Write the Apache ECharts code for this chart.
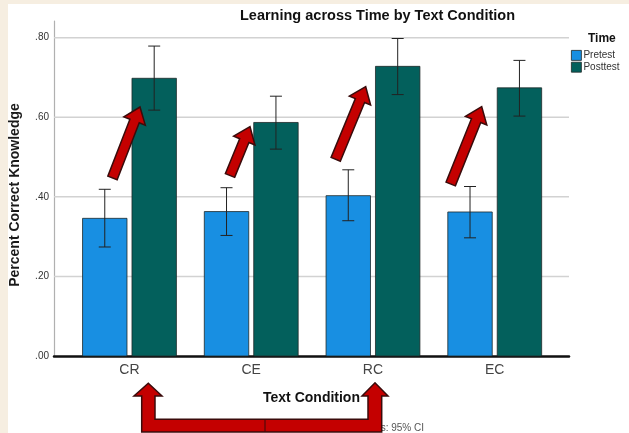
<!DOCTYPE html>
<html>
<head>
<meta charset="utf-8">
<script src="https://cdn.jsdelivr.net/npm/echarts@6/dist/echarts.min.js"></script>
<style>
  html, body { margin: 0; padding: 0; background: #f6eee1; }
  #panel { position: absolute; left: 8px; top: 4px; right: 0; bottom: 0; background: #ffffff; }
  #chart { position: absolute; left: 0; top: 0; width: 629px; height: 433px; }
</style>
</head>
<body>
<div id="panel"></div>
<div id="chart"></div>
<script>
// Mean percent correct knowledge by text condition, with 95% CI limits
const categories = ['CR', 'CE', 'RC', 'EC'];
const pretest      = [0.346, 0.363, 0.403, 0.362];
const pretestLow   = [0.274, 0.303, 0.340, 0.297];
const pretestHigh  = [0.419, 0.423, 0.468, 0.426];
const posttest     = [0.698, 0.587, 0.728, 0.674];
const posttestLow  = [0.618, 0.520, 0.657, 0.603];
const posttestHigh = [0.779, 0.653, 0.798, 0.743];
const yTicks = [0, 0.2, 0.4, 0.6, 0.8];

const X_MIN = -0.62, X_MAX = 3.61;
const BAR_W = 0.365;      // bar width in category units
const BAR_OFFSET = 0.203; // half-distance between the paired bars
const CAP_W = 12;         // error bar cap width, px

const PRE_COLOR = '#188fe2';
const POST_COLOR = '#03605c';

function rows(vals, lows, highs) {
  return vals.map((v, i) => [i, v, lows[i], highs[i]]);
}

function barRenderer(offset, color) {
  return function (params, api) {
    const x = api.value(0) + offset;
    const top = api.coord([x, api.value(1)]);
    const base = api.coord([x, 0]);
    const lo = api.coord([x, api.value(2)]);
    const hi = api.coord([x, api.value(3)]);
    const w = api.size([BAR_W, 0])[0];
    const errStyle = { stroke: '#222222', lineWidth: 1 };
    return {
      type: 'group',
      children: [
        { type: 'rect',
          shape: { x: top[0] - w / 2, y: top[1], width: w, height: base[1] - top[1] },
          style: { fill: color, stroke: '#1f2a2a', lineWidth: 0.8 } },
        { type: 'line', shape: { x1: hi[0], y1: hi[1], x2: lo[0], y2: lo[1] }, style: errStyle },
        { type: 'line', shape: { x1: hi[0] - CAP_W / 2, y1: hi[1], x2: hi[0] + CAP_W / 2, y2: hi[1] }, style: errStyle },
        { type: 'line', shape: { x1: lo[0] - CAP_W / 2, y1: lo[1], x2: lo[0] + CAP_W / 2, y2: lo[1] }, style: errStyle }
      ]
    };
  };
}

// Block arrow polygon from a tail point to a tip point
function arrowPoints(tail, tip, shaftW, headW, headL) {
  const dx = tip[0] - tail[0], dy = tip[1] - tail[1];
  const len = Math.hypot(dx, dy);
  const ux = dx / len, uy = dy / len;
  const px = -uy, py = ux;
  const bx = tip[0] - ux * headL, by = tip[1] - uy * headL;
  const s = shaftW / 2, h = headW / 2;
  return [
    [tail[0] + px * s, tail[1] + py * s],
    [bx + px * s, by + py * s],
    [bx + px * h, by + py * h],
    tip,
    [bx - px * h, by - py * h],
    [bx - px * s, by - py * s],
    [tail[0] - px * s, tail[1] - py * s]
  ];
}

// Red annotation arrows (pixel positions)
const gainArrows = [
  { tail: [112.5, 178], tip: [140, 107] },
  { tail: [230, 175.5], tip: [250, 126.7] },
  { tail: [335.7, 159.3], tip: [365.7, 86.7] },
  { tail: [450.7, 184], tip: [481.7, 106.7] }
];
const ARROW_FILL = '#c40000';
const ARROW_EDGE = '#3a0b0b';

const bracketArrow = [
  [141.7, 432], [141.7, 396], [134, 396], [148.3, 383.3], [162, 396], [155, 396],
  [155, 419.3], [368, 419.3], [368, 396], [362, 396], [375, 382.7], [388, 396],
  [381.7, 396], [381.7, 432]
];

const graphics = [
  { type: 'text', z: 1, x: 424, y: 428,
    style: { text: 'Error Bars: 95% CI', fill: '#555555', font: '10px "Liberation Sans", Arial, sans-serif',
             textAlign: 'right', textVerticalAlign: 'middle' } },
  { type: 'polygon', z: 20, shape: { points: bracketArrow },
    style: { fill: ARROW_FILL, stroke: ARROW_EDGE, lineWidth: 1.5 } },
  { type: 'line', z: 21, shape: { x1: 265, y1: 420, x2: 265, y2: 431.5 },
    style: { stroke: ARROW_EDGE, lineWidth: 1 } }
].concat(gainArrows.map(a => ({
  type: 'polygon', z: 20,
  shape: { points: arrowPoints(a.tail, a.tip, 10, 23, 15) },
  style: { fill: ARROW_FILL, stroke: ARROW_EDGE, lineWidth: 1.5 }
})));

const chart = echarts.init(document.getElementById('chart'), null, { renderer: 'canvas' });
const FONT = '"Liberation Sans", Arial, sans-serif';

chart.setOption({
  backgroundColor: 'transparent',
  animation: false,
  title: [
    { text: 'Learning across Time by Text Condition', left: 372.5, top: 3, textAlign: 'center',
      textStyle: { fontFamily: FONT, fontSize: 14.5, fontWeight: 'bold', color: '#111111' } },
    { text: 'Time', left: 583, top: 28,
      textStyle: { fontFamily: FONT, fontSize: 12, fontWeight: 'bold', color: '#111111' } }
  ],
  legend: {
    orient: 'vertical', left: 571, top: 50, padding: 0,
    itemWidth: 10, itemHeight: 10, itemGap: 1,
    icon: 'rect',
    textStyle: { fontFamily: FONT, fontSize: 10, color: '#333333', padding: [0, 0, 0, -3], lineHeight: 10 },
    data: [
      { name: 'Pretest', itemStyle: { color: PRE_COLOR, borderColor: '#1f2a2a', borderWidth: 0.8 } },
      { name: 'Posttest', itemStyle: { color: POST_COLOR, borderColor: '#1f2a2a', borderWidth: 0.8 } }
    ]
  },
  grid: { left: 54, right: 60, top: 21, bottom: 77, containLabel: false },
  xAxis: {
    type: 'value', min: X_MIN, max: X_MAX,
    name: 'Text Condition', nameLocation: 'middle', nameGap: 35,
    nameTextStyle: { fontFamily: FONT, fontSize: 14, fontWeight: 'bold', color: '#111111' },
    axisLine: { show: true, onZero: false, lineStyle: { color: '#111111', width: 2.5 } },
    axisTick: { show: false },
    splitLine: { show: false },
    axisLabel: {
      customValues: categories.map((c, i) => i),
      formatter: v => categories[Math.round(v)],
      margin: 7, fontFamily: FONT, fontSize: 14, color: '#444444'
    }
  },
  yAxis: {
    type: 'value', min: 0, max: 0.842,
    name: 'Percent Correct Knowledge', nameLocation: 'middle', nameGap: 32,
    nameTextStyle: { fontFamily: FONT, fontSize: 14, fontWeight: 'bold', color: '#1a1a1a', padding: [0, 13, 0, 0] },
    axisLine: { show: true, onZero: false, lineStyle: { color: '#b0b0b0', width: 1.2 } },
    axisTick: { show: false },
    splitLine: { show: false },
    axisLabel: {
      customValues: yTicks,
      formatter: v => v.toFixed(2).replace(/^0/, ''),
      margin: 5, fontFamily: FONT, fontSize: 10, color: '#333333'
    }
  },
  graphic: graphics,
  series: [
    {
      // horizontal reference lines at the labelled ticks
      type: 'custom', name: 'gridlines', z: 1, silent: true,
      data: yTicks.filter(v => v > 0).map(v => [v]),
      encode: { y: 0 },
      renderItem: function (params, api) {
        const v = api.value(0);
        const a = api.coord([X_MIN, v]);
        const b = api.coord([X_MAX, v]);
        return { type: 'line', shape: { x1: a[0], y1: a[1], x2: b[0], y2: b[1] },
                 style: { stroke: '#d2d2d2', lineWidth: 1.5 } };
      }
    },
    {
      type: 'custom', name: 'Pretest', z: 3,
      itemStyle: { color: PRE_COLOR },
      data: rows(pretest, pretestLow, pretestHigh),
      encode: { x: 0, y: 1 },
      renderItem: barRenderer(-BAR_OFFSET, PRE_COLOR)
    },
    {
      type: 'custom', name: 'Posttest', z: 3,
      itemStyle: { color: POST_COLOR },
      data: rows(posttest, posttestLow, posttestHigh),
      encode: { x: 0, y: 1 },
      renderItem: barRenderer(BAR_OFFSET, POST_COLOR)
    }
  ]
});
</script>
</body>
</html>
